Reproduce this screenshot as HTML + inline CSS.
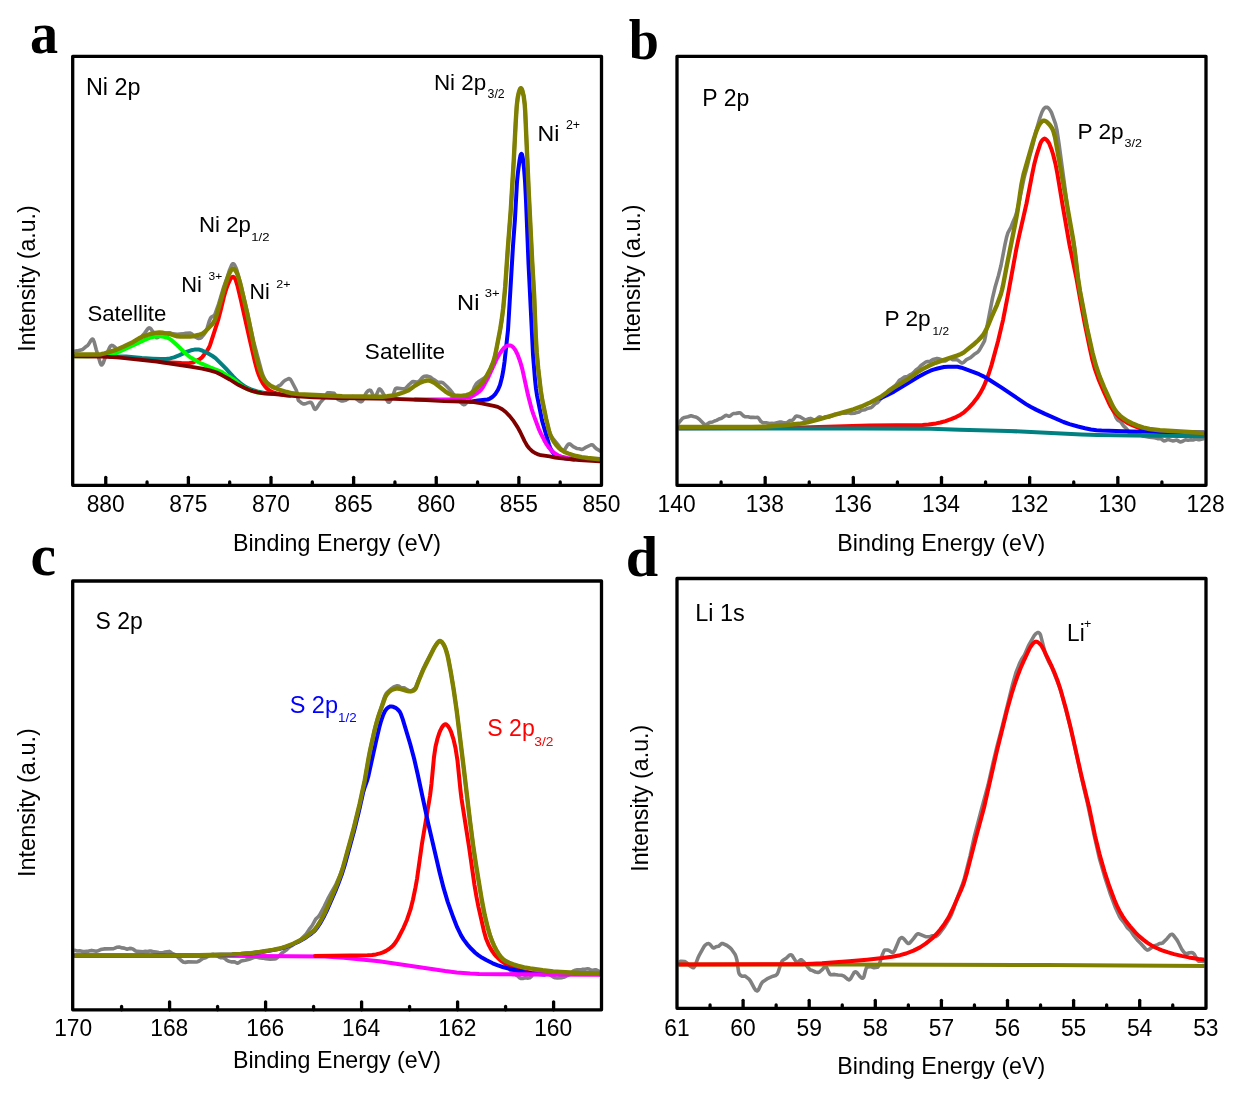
<!DOCTYPE html><html><head><meta charset="utf-8"><style>html,body{margin:0;padding:0;background:#fff;}svg{display:block;will-change:transform;}</style></head><body><svg width="1247" height="1105" viewBox="0 0 1247 1105"><rect width="1247" height="1105" fill="#fff"/><g><clipPath id="ca"><rect x="74.20" y="57.80" width="525.80" height="426.00"/></clipPath><g clip-path="url(#ca)"><path d="M72.7,351.4L77.2,350.9L82.7,349.4L85.7,346.8L87.7,345.5L88.7,344.2L91.2,340.0L92.2,339.1L92.7,339.1L93.2,339.6L94.2,342.0L96.2,349.5L100.2,362.9L101.2,364.8L101.7,365.0L102.2,364.7L103.2,363.0L105.2,357.7L108.7,349.4L109.7,347.2L110.7,345.8L111.7,345.4L112.7,345.6L113.7,346.2L116.2,348.4L117.7,349.1L120.7,348.4L124.2,348.5L128.2,347.0L134.7,343.2L139.2,340.0L142.2,336.0L144.7,333.1L147.7,328.9L148.7,328.0L149.2,327.8L150.2,328.2L151.2,329.3L153.2,332.2L155.7,336.9L156.7,337.8L157.7,337.5L161.2,335.1L163.7,334.2L166.2,333.0L169.2,332.7L170.2,332.8L172.7,333.8L177.2,334.2L182.7,333.9L185.7,333.2L190.2,333.0L191.7,333.8L194.7,336.6L197.2,338.0L198.7,338.5L200.2,338.3L201.7,337.2L203.2,335.4L204.7,333.4L206.2,330.8L207.2,328.1L209.2,321.3L210.7,317.8L211.7,316.9L213.7,315.9L215.2,313.7L218.7,303.8L223.7,287.0L227.2,277.4L229.7,269.6L231.7,264.9L232.7,263.8L233.2,263.7L233.7,263.9L234.7,265.2L236.2,268.3L237.2,271.4L241.2,286.2L247.2,311.8L253.7,341.9L262.2,373.4L264.2,378.3L266.7,382.3L268.7,384.5L272.7,387.5L274.2,388.1L275.7,387.9L278.2,386.1L280.7,384.8L283.7,381.4L285.7,380.0L288.2,378.8L289.2,378.6L289.7,378.8L290.2,379.2L291.2,380.5L296.2,390.0L296.7,391.6L298.2,399.9L298.7,400.7L301.7,403.2L303.2,403.9L304.2,403.9L306.2,403.4L309.2,402.4L310.2,402.3L311.2,402.5L312.2,403.9L314.2,408.5L314.7,409.2L315.2,409.4L315.7,409.2L316.7,408.0L320.2,402.6L324.7,397.6L327.2,393.1L327.7,392.8L328.2,392.7L329.7,392.7L334.2,393.4L335.2,394.8L336.7,397.8L337.7,399.3L341.2,400.9L342.7,401.0L345.7,400.3L349.2,397.9L351.7,396.7L352.7,396.5L353.7,396.8L354.7,397.5L359.2,401.2L360.2,401.6L361.2,401.7L362.2,401.1L362.7,400.5L363.7,398.5L365.7,393.8L366.7,392.3L368.2,390.7L369.7,390.1L370.7,390.4L371.7,392.1L373.7,396.8L374.2,397.5L374.7,397.6L375.2,397.2L375.7,396.5L378.7,389.6L379.2,389.0L379.7,388.9L380.7,389.6L381.7,391.0L385.2,396.9L387.2,400.8L388.2,402.0L388.7,402.2L389.2,402.2L390.2,401.2L391.2,399.3L393.2,394.6L395.2,389.2L395.7,388.4L396.7,388.1L402.2,388.8L404.2,388.7L405.2,388.5L406.2,387.8L409.2,384.5L412.2,381.8L413.2,381.6L416.7,382.0L418.2,381.7L419.7,380.6L422.2,377.8L423.2,376.9L424.7,376.2L426.7,376.0L430.2,376.9L433.2,379.3L435.2,380.4L437.7,382.2L438.7,382.4L441.7,382.4L443.2,383.0L447.2,386.8L450.7,390.5L452.2,392.4L455.2,396.9L457.7,399.7L462.7,404.2L463.7,404.7L464.7,404.5L465.7,403.8L467.2,402.3L468.7,400.3L469.7,398.6L471.2,395.3L474.2,387.4L476.2,383.9L477.2,382.8L479.2,381.2L484.2,378.1L485.7,376.9L487.2,375.1L489.2,371.2L493.2,362.3L494.7,357.5L500.2,330.0L501.7,320.7L503.2,309.2L505.2,287.6L508.2,243.3L510.7,211.0L513.7,161.6L515.7,123.0L516.7,107.0L517.7,98.2L518.7,93.2L520.2,88.7L520.7,88.0L521.2,88.0L521.7,88.6L522.2,89.8L523.7,95.9L524.7,104.0L525.2,111.0L528.7,191.2L532.2,261.4L534.2,296.6L535.7,335.0L536.7,352.3L538.7,372.9L541.2,393.4L542.2,399.5L545.7,416.9L548.7,429.2L549.7,432.6L550.7,435.1L552.2,437.7L557.7,444.4L560.2,447.9L561.2,449.0L562.2,449.7L563.2,450.3L563.7,450.3L564.2,450.0L565.2,448.8L567.7,444.8L568.7,444.0L569.2,443.9L570.2,444.1L573.2,446.7L576.2,448.2L577.2,448.5L579.2,448.8L581.7,449.5L582.7,449.3L585.2,447.7L590.7,445.0L591.7,444.7L592.7,445.0L593.2,445.4L595.2,447.7L596.2,448.6L601.2,451.5" fill="none" stroke="#808080" stroke-width="3.60" stroke-linejoin="round" stroke-linecap="round"/><path d="M470.0,401.8L478.0,400.6L487.5,399.5L489.5,398.8L492.0,397.2L494.0,395.4L495.5,393.8L498.0,389.7L500.0,384.9L502.0,377.3L503.5,369.2L504.5,362.0L508.0,330.1L513.0,246.0L515.0,218.9L517.0,182.0L518.0,172.0L519.5,160.7L520.5,155.5L521.0,154.1L521.5,153.8L522.0,154.5L522.5,156.4L523.0,159.4L524.0,168.4L525.0,181.0L526.0,200.7L528.5,263.4L533.0,354.5L535.0,379.3L536.0,388.7L537.0,395.3L542.0,420.4L549.0,444.6L550.0,447.3L551.5,450.4L553.0,452.7L554.5,454.3L556.0,455.3L558.5,456.5L561.5,457.5L565.0,458.3L570.0,459.1L574.0,459.4" fill="none" stroke="#0000FF" stroke-width="4.00" stroke-linejoin="round" stroke-linecap="round"/><path d="M415.0,399.6L441.0,399.6L450.0,399.3L465.5,398.1L469.5,397.4L472.0,396.4L476.5,393.6L479.0,391.7L481.0,389.8L483.0,387.1L487.5,378.9L496.5,359.3L499.5,354.0L502.0,350.3L504.5,347.4L506.0,346.3L507.5,345.7L509.0,345.4L510.0,345.4L511.0,345.7L512.5,346.7L513.5,347.6L515.5,350.3L517.5,354.4L519.5,359.7L521.0,364.4L522.5,369.9L528.0,395.1L531.5,408.6L533.5,414.6L539.0,429.5L541.0,433.9L544.0,439.7L546.5,444.2L548.5,447.1L552.0,451.1L555.0,453.6L558.0,455.3L561.5,456.6L567.5,457.9L572.0,458.4" fill="none" stroke="#FF00FF" stroke-width="4.00" stroke-linejoin="round" stroke-linecap="round"/><path d="M160.0,361.9L181.5,363.1L186.0,363.2L189.5,362.9L192.5,362.5L194.5,361.8L200.0,358.9L201.5,357.8L202.5,356.8L207.5,350.1L209.0,347.5L210.0,345.2L218.0,320.5L220.5,311.0L224.0,296.5L226.5,288.2L228.5,283.0L230.5,278.9L232.0,277.2L233.0,276.8L233.5,276.9L234.5,277.7L235.5,279.4L237.5,285.8L241.0,300.5L250.0,340.8L255.0,362.3L257.5,371.4L259.0,375.5L260.5,379.0L263.0,383.6L265.0,386.4L267.5,389.0L270.5,391.2L273.5,392.5L278.0,393.8L285.0,395.2L290.0,395.8" fill="none" stroke="#FF0000" stroke-width="4.00" stroke-linejoin="round" stroke-linecap="round"/><path d="M110.0,356.8L117.5,356.5L126.0,356.6L142.0,358.0L153.0,358.7L161.0,359.1L166.0,359.0L170.0,358.4L174.0,357.4L179.0,355.4L186.5,351.9L191.0,350.3L194.5,349.6L198.5,349.6L200.0,349.8L202.0,350.5L206.5,352.6L212.5,356.0L215.5,358.1L225.5,368.1L233.0,376.3L235.5,378.9L240.5,383.3L245.5,386.8L248.0,388.2L251.0,389.4L258.5,391.8L265.5,393.1L272.0,393.8" fill="none" stroke="#008080" stroke-width="4.00" stroke-linejoin="round" stroke-linecap="round"/><path d="M72.7,356.3L87.2,356.2L101.2,355.7L106.7,355.1L112.7,354.1L115.2,353.4L118.2,352.2L144.2,340.1L150.7,337.5L153.7,336.7L157.7,336.2L160.2,336.2L163.7,336.7L167.7,337.8L170.7,339.4L177.2,345.3L185.7,353.5L188.7,356.1L190.7,357.5L198.7,362.2L201.7,363.7L210.2,367.4L219.7,371.1L222.7,372.6L233.2,379.2L235.2,380.6L240.7,385.3L245.7,388.4L251.2,390.7L256.2,392.2L263.7,393.4L269.7,393.8" fill="none" stroke="#00FF00" stroke-width="4.00" stroke-linejoin="round" stroke-linecap="round"/><path d="M72.7,356.4L101.2,356.6L112.7,357.1L119.7,357.6L156.7,361.5L190.2,366.6L202.2,368.7L210.7,370.6L216.7,372.5L222.2,375.3L229.7,379.5L238.2,384.8L244.2,387.8L248.7,389.7L252.7,391.1L257.7,392.4L261.7,393.2L274.2,394.0L297.7,396.4L313.7,397.3L338.2,398.0L393.7,398.9L425.7,400.0L444.2,401.2L469.7,401.9L473.7,402.2L480.2,403.2L493.7,405.8L497.7,406.9L502.2,409.3L505.7,412.0L509.7,416.1L513.7,421.2L517.7,427.4L520.2,432.0L524.7,441.4L527.2,445.7L529.2,448.2L531.2,450.3L533.2,451.9L535.7,453.3L538.2,454.4L540.7,455.2L549.7,456.4L555.2,457.6L559.2,458.2L579.2,460.0L601.2,461.5" fill="none" stroke="#800000" stroke-width="3.80" stroke-linejoin="round" stroke-linecap="round"/><path d="M72.7,354.5L98.2,354.5L101.2,354.2L104.7,353.4L115.2,350.2L123.2,346.8L133.2,341.9L140.2,337.7L143.2,336.3L150.2,334.0L155.2,332.9L159.2,332.5L163.2,332.8L170.2,334.2L177.2,336.3L180.2,336.6L190.2,336.6L192.7,336.4L198.2,335.0L201.2,334.1L202.7,333.4L205.2,331.5L211.7,324.8L213.2,322.9L214.7,320.4L216.2,316.3L224.2,288.3L228.2,276.3L229.2,273.7L230.7,270.9L232.2,269.1L233.2,268.7L234.2,269.1L235.2,270.1L236.7,272.5L238.2,276.5L240.2,283.4L247.2,313.2L254.7,349.9L257.7,362.3L259.7,369.3L262.2,376.0L263.2,378.0L264.7,380.4L266.2,382.2L267.7,383.6L269.7,385.1L272.2,386.6L278.7,389.5L286.7,392.0L292.2,393.3L298.7,394.1L309.7,394.8L342.2,396.3L382.2,396.7L387.2,396.3L393.2,395.5L396.7,394.6L403.2,392.5L408.7,390.2L415.2,385.5L420.2,382.6L424.7,381.0L426.7,380.5L428.2,380.4L430.7,381.0L434.7,383.0L445.2,391.3L449.2,393.8L451.7,394.9L456.7,395.8L461.2,396.0L466.2,395.1L468.7,394.4L470.2,393.7L472.7,391.9L477.2,388.0L479.7,385.5L482.2,382.6L484.2,379.9L486.2,376.8L490.7,368.2L493.2,362.1L494.7,357.1L496.2,350.1L500.2,329.2L501.7,319.7L503.2,308.2L505.2,286.9L507.7,250.2L510.7,211.1L513.7,161.4L515.7,122.3L516.7,106.3L517.7,97.7L518.7,92.9L519.7,89.8L520.2,88.7L520.7,88.2L521.2,88.3L522.2,90.2L523.7,96.2L524.7,104.3L525.2,111.4L528.7,191.4L532.2,261.6L534.2,296.5L535.7,334.7L536.7,352.2L538.2,368.7L540.7,390.3L542.2,399.8L546.2,419.3L549.2,431.8L550.2,434.7L551.7,438.0L554.2,442.3L556.2,445.0L558.7,447.7L561.7,450.2L564.7,452.0L568.2,453.5L572.2,454.9L576.2,456.0L581.7,457.1L587.7,458.0L601.2,459.4" fill="none" stroke="#808000" stroke-width="4.40" stroke-linejoin="round" stroke-linecap="round"/></g><rect x="72.70" y="56.30" width="528.80" height="429.00" fill="none" stroke="#000" stroke-width="3.30" stroke-linejoin="round"/><line x1="105.75" y1="485.30" x2="105.75" y2="477.30" stroke="#000" stroke-width="3.3" stroke-linecap="round"/><line x1="188.38" y1="485.30" x2="188.38" y2="477.30" stroke="#000" stroke-width="3.3" stroke-linecap="round"/><line x1="271.00" y1="485.30" x2="271.00" y2="477.30" stroke="#000" stroke-width="3.3" stroke-linecap="round"/><line x1="353.62" y1="485.30" x2="353.62" y2="477.30" stroke="#000" stroke-width="3.3" stroke-linecap="round"/><line x1="436.25" y1="485.30" x2="436.25" y2="477.30" stroke="#000" stroke-width="3.3" stroke-linecap="round"/><line x1="518.88" y1="485.30" x2="518.88" y2="477.30" stroke="#000" stroke-width="3.3" stroke-linecap="round"/><line x1="147.06" y1="485.30" x2="147.06" y2="481.90" stroke="#000" stroke-width="3.3" stroke-linecap="round"/><line x1="229.69" y1="485.30" x2="229.69" y2="481.90" stroke="#000" stroke-width="3.3" stroke-linecap="round"/><line x1="312.31" y1="485.30" x2="312.31" y2="481.90" stroke="#000" stroke-width="3.3" stroke-linecap="round"/><line x1="394.94" y1="485.30" x2="394.94" y2="481.90" stroke="#000" stroke-width="3.3" stroke-linecap="round"/><line x1="477.56" y1="485.30" x2="477.56" y2="481.90" stroke="#000" stroke-width="3.3" stroke-linecap="round"/><line x1="560.19" y1="485.30" x2="560.19" y2="481.90" stroke="#000" stroke-width="3.3" stroke-linecap="round"/><text x="86.66" y="512.00" font-family="&apos;Liberation Sans&apos;, sans-serif" font-size="23.30" fill="#000" textLength="38.04" lengthAdjust="spacingAndGlyphs">880</text><text x="169.34" y="512.00" font-family="&apos;Liberation Sans&apos;, sans-serif" font-size="23.30" fill="#000" textLength="38.04" lengthAdjust="spacingAndGlyphs">875</text><text x="251.91" y="512.00" font-family="&apos;Liberation Sans&apos;, sans-serif" font-size="23.30" fill="#000" textLength="38.04" lengthAdjust="spacingAndGlyphs">870</text><text x="334.59" y="512.00" font-family="&apos;Liberation Sans&apos;, sans-serif" font-size="23.30" fill="#000" textLength="38.04" lengthAdjust="spacingAndGlyphs">865</text><text x="417.15" y="512.00" font-family="&apos;Liberation Sans&apos;, sans-serif" font-size="23.30" fill="#000" textLength="38.04" lengthAdjust="spacingAndGlyphs">860</text><text x="499.84" y="512.00" font-family="&apos;Liberation Sans&apos;, sans-serif" font-size="23.30" fill="#000" textLength="38.04" lengthAdjust="spacingAndGlyphs">855</text><text x="582.41" y="512.00" font-family="&apos;Liberation Sans&apos;, sans-serif" font-size="23.30" fill="#000" textLength="38.04" lengthAdjust="spacingAndGlyphs">850</text><text x="232.94" y="550.50" font-family="&apos;Liberation Sans&apos;, sans-serif" font-size="23.20" fill="#000" textLength="207.96" lengthAdjust="spacingAndGlyphs">Binding Energy (eV)</text><text x="0" y="0" transform="translate(35.10,351.78) rotate(-90)" font-family="&apos;Liberation Sans&apos;, sans-serif" font-size="24.35" fill="#000" textLength="146.49" lengthAdjust="spacingAndGlyphs">Intensity (a.u.)</text><text x="85.93" y="95.45" font-family="&apos;Liberation Sans&apos;, sans-serif" font-size="24.06" fill="#000" textLength="54.60" lengthAdjust="spacingAndGlyphs">Ni 2p</text><text x="433.90" y="89.65" font-family="&apos;Liberation Sans&apos;, sans-serif" font-size="22.03" fill="#000" textLength="52.38" lengthAdjust="spacingAndGlyphs">Ni 2p</text><text x="487.61" y="97.85" font-family="&apos;Liberation Sans&apos;, sans-serif" font-size="12.00" fill="#000" textLength="17.11" lengthAdjust="spacingAndGlyphs">3/2</text><text x="537.45" y="141.35" font-family="&apos;Liberation Sans&apos;, sans-serif" font-size="22.17" fill="#000" textLength="21.86" lengthAdjust="spacingAndGlyphs">Ni</text><text x="565.88" y="128.85" font-family="&apos;Liberation Sans&apos;, sans-serif" font-size="12.86" fill="#000" textLength="14.14" lengthAdjust="spacingAndGlyphs">2+</text><text x="199.02" y="231.65" font-family="&apos;Liberation Sans&apos;, sans-serif" font-size="22.03" fill="#000" textLength="51.86" lengthAdjust="spacingAndGlyphs">Ni 2p</text><text x="251.32" y="241.25" font-family="&apos;Liberation Sans&apos;, sans-serif" font-size="11.57" fill="#000" textLength="18.24" lengthAdjust="spacingAndGlyphs">1/2</text><text x="181.25" y="292.25" font-family="&apos;Liberation Sans&apos;, sans-serif" font-size="21.59" fill="#000" textLength="20.67" lengthAdjust="spacingAndGlyphs">Ni</text><text x="208.52" y="279.65" font-family="&apos;Liberation Sans&apos;, sans-serif" font-size="11.43" fill="#000" textLength="13.68" lengthAdjust="spacingAndGlyphs">3+</text><text x="249.59" y="299.45" font-family="&apos;Liberation Sans&apos;, sans-serif" font-size="21.88" fill="#000" textLength="20.19" lengthAdjust="spacingAndGlyphs">Ni</text><text x="276.27" y="287.85" font-family="&apos;Liberation Sans&apos;, sans-serif" font-size="11.57" fill="#000" textLength="14.25" lengthAdjust="spacingAndGlyphs">2+</text><text x="87.40" y="320.65" font-family="&apos;Liberation Sans&apos;, sans-serif" font-size="22.29" fill="#000" textLength="78.96" lengthAdjust="spacingAndGlyphs">Satellite</text><text x="364.89" y="359.35" font-family="&apos;Liberation Sans&apos;, sans-serif" font-size="22.14" fill="#000" textLength="80.19" lengthAdjust="spacingAndGlyphs">Satellite</text><text x="457.11" y="310.35" font-family="&apos;Liberation Sans&apos;, sans-serif" font-size="22.46" fill="#000" textLength="22.33" lengthAdjust="spacingAndGlyphs">Ni</text><text x="484.78" y="297.45" font-family="&apos;Liberation Sans&apos;, sans-serif" font-size="11.57" fill="#000" textLength="14.88" lengthAdjust="spacingAndGlyphs">3+</text></g><g><clipPath id="cb"><rect x="678.50" y="57.80" width="526.00" height="426.00"/></clipPath><g clip-path="url(#cb)"><path d="M677.0,425.4L678.5,423.2L682.5,418.3L684.5,417.4L688.0,416.8L691.0,415.7L693.5,416.5L695.5,416.9L697.5,417.8L700.0,419.9L704.5,424.4L705.5,424.8L706.5,424.4L709.5,422.5L712.5,422.0L714.5,421.0L716.5,420.4L719.0,419.0L721.5,418.2L725.5,415.5L726.5,415.3L728.5,416.2L729.5,416.3L730.5,415.7L732.5,414.0L733.5,413.5L736.0,413.4L739.0,412.9L740.0,412.9L741.0,413.4L743.5,415.9L745.0,416.8L748.0,416.7L751.0,417.4L753.0,417.2L755.5,417.5L757.5,417.3L758.5,418.0L761.0,421.6L762.5,422.6L766.0,422.7L769.5,423.5L772.0,423.3L774.0,423.5L780.0,422.1L781.0,422.1L783.5,422.7L785.5,422.9L786.5,422.7L787.5,422.3L790.0,420.6L792.5,420.3L793.5,419.3L795.5,416.6L796.5,416.0L800.0,416.8L804.5,419.5L805.5,419.8L806.5,419.7L809.0,418.7L810.5,418.4L811.5,418.7L813.5,419.9L814.5,420.1L816.0,419.5L818.5,417.4L819.5,416.9L820.5,417.1L822.0,418.1L823.0,418.2L825.0,416.9L825.5,416.8L827.5,417.2L829.0,417.1L832.0,415.9L834.0,414.6L835.0,414.2L837.5,414.2L843.0,413.0L846.0,413.2L848.5,412.8L851.0,413.5L854.5,413.3L857.0,412.4L859.0,411.9L861.5,410.3L865.0,409.8L867.5,408.4L870.5,407.8L872.0,407.0L875.0,404.0L877.0,403.0L878.0,402.2L880.5,399.1L884.5,395.5L889.0,389.9L891.5,388.3L896.0,384.8L897.0,383.7L899.0,380.8L900.0,379.8L902.0,378.8L904.5,377.1L907.5,376.4L910.5,374.5L912.5,373.5L913.5,372.7L916.0,370.0L918.5,368.2L921.0,365.5L926.0,361.9L927.0,361.6L929.5,361.6L930.5,361.1L933.0,359.4L937.0,358.4L938.5,358.7L941.5,359.7L944.0,360.9L945.0,361.0L946.5,360.4L949.0,358.6L950.0,358.4L951.0,358.7L953.0,359.8L956.5,359.7L957.5,359.9L961.0,362.6L962.0,363.0L962.5,363.0L963.5,362.5L966.5,359.6L970.5,357.6L974.0,354.6L977.5,352.3L978.5,351.3L979.5,349.9L982.5,344.7L984.5,340.9L985.5,336.1L987.0,326.5L992.5,298.2L995.0,287.6L998.5,275.5L1001.0,265.5L1005.0,244.4L1006.5,237.6L1008.0,232.6L1011.0,227.2L1013.0,221.9L1015.5,216.2L1016.5,213.1L1019.0,202.5L1024.0,178.1L1027.5,165.2L1030.0,154.9L1032.5,146.1L1036.0,131.2L1040.0,117.5L1042.0,112.0L1043.5,109.2L1044.5,108.0L1045.5,107.4L1047.0,107.2L1048.0,107.6L1049.0,108.7L1050.5,110.8L1051.5,112.7L1055.5,123.8L1057.0,130.4L1059.0,143.8L1064.5,184.5L1068.5,216.0L1070.0,225.0L1073.0,239.1L1074.5,247.7L1077.5,274.0L1079.0,285.2L1085.0,318.2L1092.0,351.7L1094.5,361.3L1099.5,377.4L1105.0,391.6L1109.5,402.4L1113.0,410.1L1116.0,417.5L1117.5,419.9L1118.5,420.7L1120.0,421.3L1121.0,422.3L1123.5,425.9L1127.0,429.3L1129.5,433.2L1130.5,434.2L1132.0,434.8L1133.0,434.9L1135.5,434.5L1138.0,435.0L1140.5,435.1L1143.5,436.3L1145.5,436.4L1149.5,437.2L1154.5,437.8L1157.5,438.6L1160.5,438.7L1161.5,439.2L1163.0,440.4L1164.0,440.9L1165.0,440.8L1167.5,439.6L1168.5,439.5L1171.5,440.6L1173.0,440.9L1174.0,440.8L1176.0,440.1L1177.0,440.1L1179.5,441.6L1180.5,442.0L1182.0,441.6L1184.5,440.2L1185.5,439.8L1188.0,440.3L1191.0,439.7L1193.0,440.0L1196.0,439.1L1198.5,439.7L1200.0,439.6L1203.5,438.7L1206.0,437.1" fill="none" stroke="#808080" stroke-width="3.60" stroke-linejoin="round" stroke-linecap="round"/><path d="M677.0,428.2L733.5,428.0L801.5,427.4L819.0,427.0L869.5,425.4L922.5,425.0L928.5,424.5L936.0,423.4L940.5,422.5L945.5,421.1L951.0,419.2L956.0,417.1L960.5,414.7L964.0,412.3L968.5,408.1L973.5,402.6L977.0,398.1L980.5,392.6L983.5,387.0L986.0,381.1L989.0,373.0L991.5,365.1L998.0,341.3L1003.0,320.1L1008.0,294.6L1016.5,248.1L1019.0,236.3L1026.5,203.5L1032.5,172.6L1034.5,163.2L1037.0,153.8L1040.5,143.2L1041.5,141.2L1042.5,139.9L1043.5,139.0L1044.5,138.6L1045.5,138.9L1047.0,140.2L1048.5,142.2L1049.5,144.2L1051.5,149.4L1053.0,154.0L1055.5,164.0L1057.5,174.5L1062.5,204.7L1069.5,244.8L1076.5,278.6L1081.5,306.7L1085.0,325.1L1090.0,349.3L1092.5,360.5L1095.0,369.4L1099.0,380.5L1103.5,391.0L1108.5,402.0L1111.0,407.0L1113.5,410.9L1116.5,414.4L1120.0,417.7L1124.0,420.7L1127.5,423.0L1131.0,424.7L1137.0,427.1L1142.5,429.0L1149.5,430.5L1161.5,431.9L1187.0,433.6L1206.0,434.6" fill="none" stroke="#FF0000" stroke-width="4.00" stroke-linejoin="round" stroke-linecap="round"/><path d="M880.0,398.5L886.5,395.4L894.0,391.6L918.0,377.0L925.5,373.0L930.5,370.7L933.5,369.6L937.5,368.5L944.0,367.0L948.0,366.7L957.5,366.8L961.5,367.7L973.0,371.8L979.0,374.2L984.0,376.6L988.5,379.3L1002.0,387.9L1026.0,404.1L1030.5,406.8L1036.5,409.9L1045.0,413.9L1063.5,422.0L1069.5,424.1L1078.0,426.5L1085.0,428.2L1091.0,429.5L1096.5,430.3L1101.5,430.6L1131.0,431.5L1206.0,432.5" fill="none" stroke="#0000FF" stroke-width="4.00" stroke-linejoin="round" stroke-linecap="round"/><path d="M677.0,428.5L861.5,428.5L931.0,428.8L959.5,429.8L1008.0,430.9L1081.5,434.4L1097.0,434.9L1132.5,435.5L1206.0,436.2" fill="none" stroke="#008080" stroke-width="4.00" stroke-linejoin="round" stroke-linecap="round"/><path d="M677.0,427.0L751.5,427.0L766.0,426.6L781.0,425.5L799.0,423.8L807.5,422.3L817.0,419.9L853.5,409.3L861.5,406.4L869.0,403.1L875.5,399.7L881.5,396.3L893.0,388.1L907.0,379.7L917.5,372.2L922.5,369.1L929.0,365.7L935.5,362.8L948.5,358.3L957.0,355.6L961.0,354.0L963.0,352.9L965.0,351.4L974.5,343.7L978.0,340.5L981.0,337.4L983.5,334.3L985.5,331.0L987.5,326.8L991.5,317.2L997.0,304.8L1000.5,295.3L1002.0,290.0L1003.0,285.6L1007.0,264.6L1015.5,222.4L1017.5,211.1L1021.5,184.1L1023.5,174.6L1033.5,139.9L1036.5,130.8L1038.5,126.1L1040.0,123.6L1042.0,121.5L1043.0,120.8L1044.0,120.7L1045.5,121.1L1047.5,122.6L1049.5,124.6L1051.0,126.6L1052.5,129.2L1053.5,131.6L1055.0,137.1L1073.0,238.6L1075.0,252.8L1078.0,278.1L1080.0,291.1L1087.0,328.0L1092.5,352.7L1096.0,365.8L1099.5,376.1L1104.0,387.1L1112.5,405.7L1114.5,409.2L1117.0,412.5L1120.0,415.6L1123.5,418.4L1127.5,421.0L1132.0,423.3L1137.5,425.6L1143.5,427.6L1149.5,429.0L1160.0,430.2L1188.5,432.0L1206.0,433.0" fill="none" stroke="#808000" stroke-width="4.40" stroke-linejoin="round" stroke-linecap="round"/></g><rect x="677.00" y="56.30" width="529.00" height="429.00" fill="none" stroke="#000" stroke-width="3.30" stroke-linejoin="round"/><line x1="765.17" y1="485.30" x2="765.17" y2="477.30" stroke="#000" stroke-width="3.3" stroke-linecap="round"/><line x1="853.33" y1="485.30" x2="853.33" y2="477.30" stroke="#000" stroke-width="3.3" stroke-linecap="round"/><line x1="941.50" y1="485.30" x2="941.50" y2="477.30" stroke="#000" stroke-width="3.3" stroke-linecap="round"/><line x1="1029.66" y1="485.30" x2="1029.66" y2="477.30" stroke="#000" stroke-width="3.3" stroke-linecap="round"/><line x1="1117.83" y1="485.30" x2="1117.83" y2="477.30" stroke="#000" stroke-width="3.3" stroke-linecap="round"/><line x1="721.08" y1="485.30" x2="721.08" y2="481.90" stroke="#000" stroke-width="3.3" stroke-linecap="round"/><line x1="809.25" y1="485.30" x2="809.25" y2="481.90" stroke="#000" stroke-width="3.3" stroke-linecap="round"/><line x1="897.41" y1="485.30" x2="897.41" y2="481.90" stroke="#000" stroke-width="3.3" stroke-linecap="round"/><line x1="985.58" y1="485.30" x2="985.58" y2="481.90" stroke="#000" stroke-width="3.3" stroke-linecap="round"/><line x1="1073.75" y1="485.30" x2="1073.75" y2="481.90" stroke="#000" stroke-width="3.3" stroke-linecap="round"/><line x1="1161.91" y1="485.30" x2="1161.91" y2="481.90" stroke="#000" stroke-width="3.3" stroke-linecap="round"/><text x="657.56" y="512.00" font-family="&apos;Liberation Sans&apos;, sans-serif" font-size="23.30" fill="#000" textLength="38.04" lengthAdjust="spacingAndGlyphs">140</text><text x="745.79" y="512.00" font-family="&apos;Liberation Sans&apos;, sans-serif" font-size="23.30" fill="#000" textLength="38.04" lengthAdjust="spacingAndGlyphs">138</text><text x="833.95" y="512.00" font-family="&apos;Liberation Sans&apos;, sans-serif" font-size="23.30" fill="#000" textLength="38.04" lengthAdjust="spacingAndGlyphs">136</text><text x="922.00" y="512.00" font-family="&apos;Liberation Sans&apos;, sans-serif" font-size="23.30" fill="#000" textLength="38.04" lengthAdjust="spacingAndGlyphs">134</text><text x="1010.40" y="512.00" font-family="&apos;Liberation Sans&apos;, sans-serif" font-size="23.30" fill="#000" textLength="38.04" lengthAdjust="spacingAndGlyphs">132</text><text x="1098.39" y="512.00" font-family="&apos;Liberation Sans&apos;, sans-serif" font-size="23.30" fill="#000" textLength="38.04" lengthAdjust="spacingAndGlyphs">130</text><text x="1186.62" y="512.00" font-family="&apos;Liberation Sans&apos;, sans-serif" font-size="23.30" fill="#000" textLength="38.04" lengthAdjust="spacingAndGlyphs">128</text><text x="837.34" y="550.50" font-family="&apos;Liberation Sans&apos;, sans-serif" font-size="23.20" fill="#000" textLength="207.96" lengthAdjust="spacingAndGlyphs">Binding Energy (eV)</text><text x="0" y="0" transform="translate(639.60,352.20) rotate(-90)" font-family="&apos;Liberation Sans&apos;, sans-serif" font-size="24.49" fill="#000" textLength="147.82" lengthAdjust="spacingAndGlyphs">Intensity (a.u.)</text><text x="702.36" y="105.85" font-family="&apos;Liberation Sans&apos;, sans-serif" font-size="23.91" fill="#000" textLength="46.94" lengthAdjust="spacingAndGlyphs">P 2p</text><text x="884.49" y="326.35" font-family="&apos;Liberation Sans&apos;, sans-serif" font-size="22.03" fill="#000" textLength="46.20" lengthAdjust="spacingAndGlyphs">P 2p</text><text x="932.51" y="334.95" font-family="&apos;Liberation Sans&apos;, sans-serif" font-size="11.57" fill="#000" textLength="16.48" lengthAdjust="spacingAndGlyphs">1/2</text><text x="1077.49" y="138.85" font-family="&apos;Liberation Sans&apos;, sans-serif" font-size="22.32" fill="#000" textLength="46.20" lengthAdjust="spacingAndGlyphs">P 2p</text><text x="1124.60" y="147.25" font-family="&apos;Liberation Sans&apos;, sans-serif" font-size="11.57" fill="#000" textLength="17.43" lengthAdjust="spacingAndGlyphs">3/2</text></g><g><clipPath id="cc"><rect x="74.20" y="582.50" width="525.80" height="425.80"/></clipPath><g clip-path="url(#cc)"><path d="M72.7,950.7L75.2,950.4L77.2,951.0L79.7,950.8L82.7,951.5L84.7,951.6L88.7,951.1L91.7,950.4L96.2,951.3L97.2,951.1L100.7,949.6L102.2,949.2L104.7,948.9L113.2,948.7L114.2,948.4L116.7,947.3L119.2,947.1L122.2,947.9L124.2,948.1L127.2,949.2L129.7,948.4L131.7,948.6L133.2,949.2L135.7,951.0L137.2,951.4L143.2,951.7L145.2,951.4L147.7,951.5L149.7,951.0L150.7,951.0L154.2,951.9L156.2,952.0L158.7,952.5L162.7,952.7L165.2,952.1L169.2,951.4L170.2,951.8L172.7,953.8L174.7,954.5L175.7,955.1L181.2,960.5L183.2,962.0L184.2,962.3L185.2,962.4L188.2,961.9L196.2,962.0L197.7,961.7L199.2,961.0L202.7,958.5L203.7,958.2L205.7,957.8L210.7,955.0L212.2,954.5L213.2,954.4L217.2,955.8L219.7,957.4L220.7,957.7L222.7,957.6L223.7,957.9L224.7,958.5L226.7,960.2L228.2,961.0L231.2,961.9L234.2,961.7L236.7,963.0L237.7,963.2L238.7,962.7L241.2,961.1L245.2,960.3L249.2,959.2L254.2,957.3L255.2,957.1L257.2,957.2L260.2,958.0L262.7,958.1L265.7,958.8L270.2,959.1L274.7,958.9L275.7,958.7L277.2,957.7L281.7,953.3L286.2,950.1L289.2,947.3L291.7,945.8L294.2,943.8L297.2,942.1L300.7,939.6L306.2,934.0L309.2,929.4L312.2,925.5L315.7,919.1L318.2,916.8L319.7,914.9L324.2,906.6L327.7,899.2L331.7,891.8L335.7,884.9L340.7,873.4L342.2,869.5L344.2,863.1L348.2,848.2L351.2,838.0L359.7,804.0L365.2,777.8L368.7,757.5L370.7,747.0L374.7,728.8L377.7,717.6L380.7,709.1L383.7,699.2L385.2,695.3L386.2,693.5L387.2,692.3L391.7,688.4L393.7,687.0L397.2,685.8L398.7,686.0L400.7,687.4L401.7,687.8L404.2,687.7L406.7,689.4L410.2,691.3L410.7,691.4L411.7,691.1L414.2,689.0L415.2,687.8L416.2,686.0L422.2,671.2L426.2,662.5L434.2,647.6L436.2,644.2L437.7,642.3L439.2,641.1L440.2,640.9L440.7,641.1L441.7,641.9L443.7,644.6L445.2,647.6L446.7,651.8L447.7,655.6L448.7,660.4L452.7,683.3L455.7,703.4L457.7,718.4L468.2,806.1L473.7,849.7L476.2,866.7L483.2,908.9L485.2,917.9L489.7,933.9L494.2,945.9L495.7,949.4L503.2,961.4L506.2,964.8L508.7,968.3L510.7,970.8L513.2,973.1L517.2,975.6L519.7,977.8L521.2,978.5L522.7,978.5L525.2,977.7L528.2,978.1L529.7,977.8L531.2,976.6L533.7,973.0L534.7,972.3L538.7,972.4L542.2,973.4L545.2,973.2L546.2,973.4L550.2,975.0L553.7,977.3L555.2,977.8L557.2,978.0L562.2,977.6L564.7,977.0L569.7,974.5L572.7,971.5L573.7,970.8L575.2,970.2L577.2,969.8L579.7,969.9L582.2,969.4L585.2,969.3L587.7,968.7L588.7,968.9L590.7,970.0L591.7,970.3L592.7,970.3L595.2,969.9L596.2,969.9L601.2,972.3" fill="none" stroke="#808080" stroke-width="3.60" stroke-linejoin="round" stroke-linecap="round"/><path d="M72.7,955.7L210.7,955.7L324.7,956.5L343.7,957.7L379.2,961.3L445.2,971.1L456.7,972.5L470.2,973.6L479.2,974.0L501.7,974.2L601.2,974.6" fill="none" stroke="#FF00FF" stroke-width="4.00" stroke-linejoin="round" stroke-linecap="round"/><path d="M315.0,955.9L367.5,955.3L372.0,955.0L376.0,954.4L380.0,953.4L383.0,952.4L386.0,950.9L389.0,949.0L392.0,946.6L394.0,944.5L396.0,941.8L398.0,938.5L403.5,927.8L407.0,919.7L410.5,909.4L413.0,899.5L415.5,887.4L417.0,879.0L422.0,843.5L430.0,796.0L431.5,783.8L434.0,757.0L435.5,746.7L437.5,738.5L439.0,733.8L440.5,730.1L442.0,727.3L443.5,725.3L444.5,724.4L445.5,724.2L446.5,724.6L448.0,726.2L449.5,728.5L451.0,731.7L453.5,739.4L455.5,748.0L457.5,760.7L460.5,790.5L461.5,798.7L469.0,846.6L474.5,885.1L476.5,896.9L478.5,907.1L484.0,931.2L486.0,938.6L488.5,944.6L490.5,948.4L492.5,951.6L494.5,954.4L496.5,956.7L498.5,958.7L501.0,960.8L507.5,965.1L511.0,966.9L514.5,968.4L520.5,970.4L531.0,972.6" fill="none" stroke="#FF0000" stroke-width="4.00" stroke-linejoin="round" stroke-linecap="round"/><path d="M72.7,955.6L158.2,955.6L198.7,955.3L232.2,954.5L251.2,953.2L259.7,952.2L272.7,950.1L279.7,948.7L284.7,947.3L292.7,944.3L299.7,941.1L305.2,937.9L311.7,933.3L314.7,930.7L317.2,927.7L320.7,922.3L324.2,916.0L327.2,909.8L335.2,891.4L338.2,883.9L341.7,874.6L344.7,865.2L354.2,830.4L358.7,812.3L363.2,792.3L364.7,787.3L367.2,780.3L368.2,776.7L376.2,740.6L379.2,727.7L380.7,722.2L383.2,714.9L385.2,710.7L386.7,708.8L388.2,707.5L389.7,706.6L391.2,706.4L393.2,706.8L395.7,707.9L397.2,709.0L398.7,710.5L399.7,711.8L400.7,713.6L402.7,719.2L410.2,744.0L414.2,759.0L417.7,774.2L428.2,823.4L439.7,872.7L443.7,888.4L447.7,901.9L453.7,918.6L457.2,927.4L461.2,935.6L463.7,939.6L467.2,944.3L471.2,948.8L475.2,952.7L478.2,955.1L482.2,957.8L486.7,960.3L492.7,963.3L497.2,965.2L502.7,967.0L511.2,969.3L518.7,971.0L526.2,972.6L530.7,973.3L537.7,974.1L544.7,974.4" fill="none" stroke="#0000FF" stroke-width="4.00" stroke-linejoin="round" stroke-linecap="round"/><path d="M512.2,974.3L601.2,974.6" fill="none" stroke="#FF00FF" stroke-width="4.00" stroke-linejoin="round" stroke-linecap="round"/><path d="M72.7,955.6L157.7,955.6L198.7,955.3L231.7,954.4L241.2,953.9L251.2,953.1L259.7,952.0L272.7,949.9L279.7,948.5L284.7,947.0L293.2,943.7L300.2,940.3L305.7,936.9L312.2,932.1L314.7,929.6L317.7,925.5L321.2,919.8L324.7,913.0L330.2,900.7L335.7,887.7L340.2,876.0L342.7,868.5L353.2,830.4L359.7,803.8L364.7,780.7L368.7,757.6L370.2,749.9L374.7,730.0L376.7,722.3L379.2,714.0L385.2,697.3L386.7,694.6L389.2,691.8L391.7,690.0L395.2,688.7L397.2,688.4L399.2,688.7L407.7,691.1L409.2,691.3L410.7,691.3L412.2,691.0L413.7,690.4L414.7,689.7L415.7,688.4L416.2,687.3L419.2,679.3L423.7,668.7L433.2,649.7L435.2,646.2L437.7,642.6L439.2,641.2L440.2,641.0L440.7,641.2L441.7,641.9L443.2,643.8L444.7,646.6L445.7,649.2L447.2,654.3L448.2,658.6L450.7,671.7L453.7,689.8L456.7,710.8L463.7,767.7L470.2,823.1L473.2,846.0L475.7,862.9L481.7,899.5L484.7,915.1L487.2,925.6L489.7,934.6L491.7,940.4L493.7,944.9L496.2,949.8L498.7,954.0L501.2,957.4L503.2,959.4L505.7,961.1L509.2,962.8L513.2,964.3L518.2,965.8L524.2,967.3L530.2,968.4L542.7,970.3L553.2,971.5L560.7,972.0L579.2,973.0L601.2,973.5" fill="none" stroke="#808000" stroke-width="4.40" stroke-linejoin="round" stroke-linecap="round"/></g><rect x="72.70" y="581.00" width="528.80" height="428.80" fill="none" stroke="#000" stroke-width="3.30" stroke-linejoin="round"/><line x1="169.60" y1="1009.80" x2="169.60" y2="1001.80" stroke="#000" stroke-width="3.3" stroke-linecap="round"/><line x1="265.60" y1="1009.80" x2="265.60" y2="1001.80" stroke="#000" stroke-width="3.3" stroke-linecap="round"/><line x1="361.60" y1="1009.80" x2="361.60" y2="1001.80" stroke="#000" stroke-width="3.3" stroke-linecap="round"/><line x1="457.60" y1="1009.80" x2="457.60" y2="1001.80" stroke="#000" stroke-width="3.3" stroke-linecap="round"/><line x1="553.60" y1="1009.80" x2="553.60" y2="1001.80" stroke="#000" stroke-width="3.3" stroke-linecap="round"/><line x1="121.60" y1="1009.80" x2="121.60" y2="1006.40" stroke="#000" stroke-width="3.3" stroke-linecap="round"/><line x1="217.60" y1="1009.80" x2="217.60" y2="1006.40" stroke="#000" stroke-width="3.3" stroke-linecap="round"/><line x1="313.60" y1="1009.80" x2="313.60" y2="1006.40" stroke="#000" stroke-width="3.3" stroke-linecap="round"/><line x1="409.60" y1="1009.80" x2="409.60" y2="1006.40" stroke="#000" stroke-width="3.3" stroke-linecap="round"/><line x1="505.60" y1="1009.80" x2="505.60" y2="1006.40" stroke="#000" stroke-width="3.3" stroke-linecap="round"/><text x="54.16" y="1036.00" font-family="&apos;Liberation Sans&apos;, sans-serif" font-size="23.30" fill="#000" textLength="38.04" lengthAdjust="spacingAndGlyphs">170</text><text x="150.22" y="1036.00" font-family="&apos;Liberation Sans&apos;, sans-serif" font-size="23.30" fill="#000" textLength="38.04" lengthAdjust="spacingAndGlyphs">168</text><text x="246.22" y="1036.00" font-family="&apos;Liberation Sans&apos;, sans-serif" font-size="23.30" fill="#000" textLength="38.04" lengthAdjust="spacingAndGlyphs">166</text><text x="342.11" y="1036.00" font-family="&apos;Liberation Sans&apos;, sans-serif" font-size="23.30" fill="#000" textLength="38.04" lengthAdjust="spacingAndGlyphs">164</text><text x="438.33" y="1036.00" font-family="&apos;Liberation Sans&apos;, sans-serif" font-size="23.30" fill="#000" textLength="38.04" lengthAdjust="spacingAndGlyphs">162</text><text x="534.16" y="1036.00" font-family="&apos;Liberation Sans&apos;, sans-serif" font-size="23.30" fill="#000" textLength="38.04" lengthAdjust="spacingAndGlyphs">160</text><text x="232.94" y="1067.80" font-family="&apos;Liberation Sans&apos;, sans-serif" font-size="23.20" fill="#000" textLength="207.96" lengthAdjust="spacingAndGlyphs">Binding Energy (eV)</text><text x="0" y="0" transform="translate(34.90,877.01) rotate(-90)" font-family="&apos;Liberation Sans&apos;, sans-serif" font-size="24.35" fill="#000" textLength="148.85" lengthAdjust="spacingAndGlyphs">Intensity (a.u.)</text><text x="95.57" y="629.35" font-family="&apos;Liberation Sans&apos;, sans-serif" font-size="24.14" fill="#000" textLength="47.20" lengthAdjust="spacingAndGlyphs">S 2p</text><text x="289.64" y="712.85" font-family="&apos;Liberation Sans&apos;, sans-serif" font-size="24.43" fill="#0000FF" textLength="48.45" lengthAdjust="spacingAndGlyphs">S 2p</text><text x="338.10" y="722.15" font-family="&apos;Liberation Sans&apos;, sans-serif" font-size="12.00" fill="#0000FF" textLength="18.57" lengthAdjust="spacingAndGlyphs">1/2</text><text x="487.26" y="736.35" font-family="&apos;Liberation Sans&apos;, sans-serif" font-size="24.14" fill="#FF0000" textLength="47.51" lengthAdjust="spacingAndGlyphs">S 2p</text><text x="534.25" y="745.85" font-family="&apos;Liberation Sans&apos;, sans-serif" font-size="12.57" fill="#FF0000" textLength="19.14" lengthAdjust="spacingAndGlyphs">3/2</text></g><g><clipPath id="cd"><rect x="678.50" y="580.00" width="526.00" height="426.80"/></clipPath><g clip-path="url(#cd)"><path d="M677.0,964.0L679.0,962.2L680.5,961.3L681.5,961.2L684.5,961.5L685.5,961.9L686.5,962.6L690.0,965.9L692.5,967.5L693.5,967.8L694.0,967.4L695.0,965.8L698.0,957.8L699.0,955.7L704.0,946.7L705.0,945.4L706.0,944.5L707.5,943.7L708.5,943.6L709.0,943.7L710.0,944.4L712.5,947.4L713.5,948.0L714.5,947.7L716.0,946.8L718.5,946.3L721.5,943.7L722.0,943.5L723.0,943.6L727.0,945.5L730.0,947.7L731.5,949.3L735.0,954.2L736.0,956.6L737.0,960.5L738.5,971.4L739.0,973.4L739.5,974.2L740.5,975.3L742.0,976.1L743.0,976.2L744.5,976.0L745.5,976.3L749.0,979.1L750.5,981.1L754.5,988.7L756.0,990.5L757.0,991.0L757.5,990.9L758.5,989.8L761.0,984.3L762.5,982.0L768.0,978.3L773.0,976.2L775.5,975.5L777.0,974.3L778.0,972.5L780.5,964.9L782.0,961.3L783.0,960.2L786.5,958.0L789.0,955.5L790.0,954.9L791.0,954.7L792.0,955.3L795.5,960.9L796.5,961.9L797.0,962.1L798.0,961.9L800.5,959.8L801.0,959.7L802.0,960.2L804.0,962.1L808.5,968.1L810.0,969.7L810.5,970.1L812.5,970.6L815.5,972.0L818.0,972.5L819.5,972.0L822.5,969.3L824.5,966.8L825.0,966.4L825.5,966.3L826.0,966.5L826.5,967.2L829.0,972.7L830.0,974.3L830.5,974.7L831.0,974.8L834.5,974.4L838.0,975.0L842.0,975.3L844.0,976.2L847.5,979.2L849.0,979.9L849.5,979.8L850.5,978.8L854.0,972.6L854.5,972.1L855.5,971.8L856.0,972.0L857.0,972.7L860.0,976.6L861.0,977.6L862.0,978.1L863.0,978.1L863.5,977.6L864.0,976.3L865.5,970.5L866.5,967.5L867.0,967.0L868.5,967.0L870.5,966.6L874.0,967.7L877.5,967.3L878.0,966.9L879.0,965.1L882.5,954.4L884.0,950.9L884.5,950.2L885.0,950.0L887.5,950.0L889.0,950.5L892.0,952.4L893.0,952.4L893.5,952.2L895.0,949.7L899.0,940.1L900.0,938.6L901.0,937.8L902.0,937.6L903.0,938.1L904.0,939.0L907.0,942.7L908.0,943.4L908.5,943.5L909.5,943.1L910.5,942.2L913.5,938.6L916.5,934.6L917.5,933.8L918.5,933.8L919.5,934.1L925.5,936.7L929.0,936.8L930.0,936.7L932.5,935.7L933.5,935.8L935.0,936.4L936.0,936.4L937.0,935.8L938.5,934.5L940.0,932.8L944.5,926.6L949.5,918.3L951.0,915.5L953.0,910.3L957.0,898.6L962.5,884.2L964.0,879.9L970.0,856.1L974.5,836.0L980.5,812.9L988.0,785.3L993.0,763.1L997.0,746.5L1002.0,727.4L1012.5,684.8L1016.0,672.4L1020.0,662.5L1021.5,659.6L1024.5,655.0L1028.5,645.7L1034.5,635.2L1036.0,633.6L1037.0,632.9L1038.0,632.5L1038.5,632.6L1039.5,633.2L1040.5,634.9L1045.5,654.3L1048.5,661.3L1052.0,667.8L1059.0,685.5L1061.0,691.4L1070.0,725.6L1072.0,733.7L1083.0,784.4L1087.5,803.3L1094.0,834.4L1099.5,858.8L1104.5,876.1L1110.0,893.0L1115.5,907.8L1119.5,916.6L1121.0,918.9L1124.0,922.5L1127.5,927.9L1130.5,930.6L1134.0,935.9L1138.0,940.8L1141.0,943.8L1145.0,948.3L1147.0,950.0L1147.5,950.1L1148.5,949.8L1154.5,945.7L1157.0,945.0L1159.5,943.5L1161.5,943.4L1162.5,943.1L1167.0,938.7L1170.0,935.2L1171.0,934.4L1172.0,934.2L1172.5,934.4L1173.5,935.3L1176.5,939.3L1178.0,941.8L1182.0,949.7L1183.5,951.7L1185.0,953.3L1186.0,953.8L1186.5,953.8L1189.5,952.7L1192.0,952.6L1193.0,953.0L1194.5,954.6L1197.0,959.3L1198.0,960.7L1198.5,961.1L1199.0,961.3L1201.0,961.1L1203.0,961.5L1204.5,961.2L1206.0,960.5" fill="none" stroke="#808080" stroke-width="3.60" stroke-linejoin="round" stroke-linecap="round"/><path d="M677.0,964.4L846.0,964.5L1046.5,965.0L1206.0,966.0" fill="none" stroke="#808000" stroke-width="4.00" stroke-linejoin="round" stroke-linecap="round"/><path d="M677.0,964.4L802.5,964.3L822.0,963.3L849.0,961.3L867.0,959.7L882.5,958.0L892.0,956.7L900.0,955.2L906.0,953.5L913.5,950.6L920.0,947.4L926.0,943.4L932.0,938.5L936.5,934.0L940.5,929.3L944.5,923.9L948.5,917.6L952.0,910.5L961.0,890.3L963.5,884.1L966.5,874.2L976.5,835.4L984.0,807.7L996.5,752.6L1007.0,710.2L1011.5,694.2L1014.5,684.6L1017.5,676.0L1020.5,668.3L1023.5,661.4L1029.0,649.6L1030.5,646.9L1032.0,644.8L1033.5,643.0L1035.0,641.9L1036.0,641.6L1037.5,642.0L1039.5,643.5L1041.5,645.8L1043.0,648.4L1051.0,664.9L1054.0,671.6L1057.5,680.5L1060.5,689.6L1066.0,709.0L1070.5,727.2L1081.5,776.0L1089.0,806.7L1095.0,835.7L1099.5,854.0L1104.5,871.6L1109.5,886.8L1115.0,901.4L1117.0,905.9L1119.5,910.9L1122.5,916.1L1126.0,921.3L1130.0,926.3L1135.5,932.6L1139.0,936.1L1143.5,939.9L1147.5,942.9L1151.5,945.4L1156.5,948.0L1162.0,950.3L1167.5,952.2L1174.0,954.1L1181.5,955.9L1189.0,957.4L1198.5,958.9L1206.0,959.8" fill="none" stroke="#FF0000" stroke-width="4.00" stroke-linejoin="round" stroke-linecap="round"/></g><rect x="677.00" y="578.50" width="529.00" height="429.80" fill="none" stroke="#000" stroke-width="3.30" stroke-linejoin="round"/><line x1="743.10" y1="1008.30" x2="743.10" y2="1000.30" stroke="#000" stroke-width="3.3" stroke-linecap="round"/><line x1="809.20" y1="1008.30" x2="809.20" y2="1000.30" stroke="#000" stroke-width="3.3" stroke-linecap="round"/><line x1="875.30" y1="1008.30" x2="875.30" y2="1000.30" stroke="#000" stroke-width="3.3" stroke-linecap="round"/><line x1="941.40" y1="1008.30" x2="941.40" y2="1000.30" stroke="#000" stroke-width="3.3" stroke-linecap="round"/><line x1="1007.50" y1="1008.30" x2="1007.50" y2="1000.30" stroke="#000" stroke-width="3.3" stroke-linecap="round"/><line x1="1073.60" y1="1008.30" x2="1073.60" y2="1000.30" stroke="#000" stroke-width="3.3" stroke-linecap="round"/><line x1="1139.70" y1="1008.30" x2="1139.70" y2="1000.30" stroke="#000" stroke-width="3.3" stroke-linecap="round"/><line x1="710.05" y1="1008.30" x2="710.05" y2="1004.90" stroke="#000" stroke-width="3.3" stroke-linecap="round"/><line x1="776.15" y1="1008.30" x2="776.15" y2="1004.90" stroke="#000" stroke-width="3.3" stroke-linecap="round"/><line x1="842.25" y1="1008.30" x2="842.25" y2="1004.90" stroke="#000" stroke-width="3.3" stroke-linecap="round"/><line x1="908.35" y1="1008.30" x2="908.35" y2="1004.90" stroke="#000" stroke-width="3.3" stroke-linecap="round"/><line x1="974.45" y1="1008.30" x2="974.45" y2="1004.90" stroke="#000" stroke-width="3.3" stroke-linecap="round"/><line x1="1040.55" y1="1008.30" x2="1040.55" y2="1004.90" stroke="#000" stroke-width="3.3" stroke-linecap="round"/><line x1="1106.65" y1="1008.30" x2="1106.65" y2="1004.90" stroke="#000" stroke-width="3.3" stroke-linecap="round"/><line x1="1172.75" y1="1008.30" x2="1172.75" y2="1004.90" stroke="#000" stroke-width="3.3" stroke-linecap="round"/><text x="664.29" y="1036.00" font-family="&apos;Liberation Sans&apos;, sans-serif" font-size="23.30" fill="#000" textLength="25.36" lengthAdjust="spacingAndGlyphs">61</text><text x="730.28" y="1036.00" font-family="&apos;Liberation Sans&apos;, sans-serif" font-size="23.30" fill="#000" textLength="25.36" lengthAdjust="spacingAndGlyphs">60</text><text x="796.60" y="1036.00" font-family="&apos;Liberation Sans&apos;, sans-serif" font-size="23.30" fill="#000" textLength="25.36" lengthAdjust="spacingAndGlyphs">59</text><text x="862.65" y="1036.00" font-family="&apos;Liberation Sans&apos;, sans-serif" font-size="23.30" fill="#000" textLength="25.36" lengthAdjust="spacingAndGlyphs">58</text><text x="928.86" y="1036.00" font-family="&apos;Liberation Sans&apos;, sans-serif" font-size="23.30" fill="#000" textLength="25.36" lengthAdjust="spacingAndGlyphs">57</text><text x="994.85" y="1036.00" font-family="&apos;Liberation Sans&apos;, sans-serif" font-size="23.30" fill="#000" textLength="25.36" lengthAdjust="spacingAndGlyphs">56</text><text x="1060.95" y="1036.00" font-family="&apos;Liberation Sans&apos;, sans-serif" font-size="23.30" fill="#000" textLength="25.36" lengthAdjust="spacingAndGlyphs">55</text><text x="1126.93" y="1036.00" font-family="&apos;Liberation Sans&apos;, sans-serif" font-size="23.30" fill="#000" textLength="25.36" lengthAdjust="spacingAndGlyphs">54</text><text x="1193.15" y="1036.00" font-family="&apos;Liberation Sans&apos;, sans-serif" font-size="23.30" fill="#000" textLength="25.36" lengthAdjust="spacingAndGlyphs">53</text><text x="837.34" y="1073.50" font-family="&apos;Liberation Sans&apos;, sans-serif" font-size="23.20" fill="#000" textLength="207.96" lengthAdjust="spacingAndGlyphs">Binding Energy (eV)</text><text x="0" y="0" transform="translate(647.60,871.79) rotate(-90)" font-family="&apos;Liberation Sans&apos;, sans-serif" font-size="24.35" fill="#000" textLength="147.00" lengthAdjust="spacingAndGlyphs">Intensity (a.u.)</text><text x="695.22" y="621.05" font-family="&apos;Liberation Sans&apos;, sans-serif" font-size="24.35" fill="#000" textLength="49.55" lengthAdjust="spacingAndGlyphs">Li 1s</text><text x="1067.10" y="640.95" font-family="&apos;Liberation Sans&apos;, sans-serif" font-size="24.06" fill="#000" textLength="17.54" lengthAdjust="spacingAndGlyphs">Li</text><text x="1083.97" y="628.40" font-family="&apos;Liberation Sans&apos;, sans-serif" font-size="12.50" fill="#000">+</text></g><text x="30.11" y="52.90" font-family="&apos;Liberation Serif&apos;, serif" font-size="59.57" font-weight="bold" fill="#000" textLength="28.13" lengthAdjust="spacingAndGlyphs">a</text><text x="628.76" y="58.50" font-family="&apos;Liberation Serif&apos;, serif" font-size="57.84" font-weight="bold" fill="#000" textLength="30.18" lengthAdjust="spacingAndGlyphs">b</text><text x="30.59" y="574.80" font-family="&apos;Liberation Serif&apos;, serif" font-size="58.72" font-weight="bold" fill="#000" textLength="25.48" lengthAdjust="spacingAndGlyphs">c</text><text x="625.67" y="575.90" font-family="&apos;Liberation Serif&apos;, serif" font-size="56.69" font-weight="bold" fill="#000" textLength="32.38" lengthAdjust="spacingAndGlyphs">d</text></svg></body></html>
